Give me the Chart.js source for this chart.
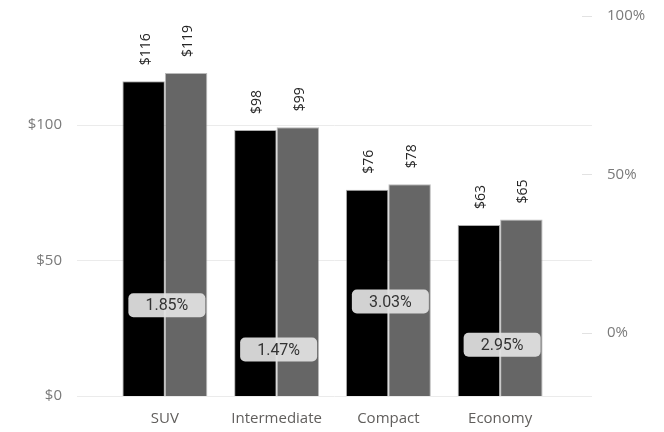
<!DOCTYPE html>
<html><head><meta charset="utf-8">
<script src="https://cdn.jsdelivr.net/npm/chart.js@4/dist/chart.umd.min.js"></script>
<style>html,body{margin:0;padding:0;background:#fff;overflow:hidden}</style>
</head><body><canvas id="c" width="664" height="432"></canvas>
<script>
const categories = ['SUV', 'Intermediate', 'Compact', 'Economy'];
const seriesA = [116, 98, 76, 63];
const seriesB = [119, 99, 78, 65];
const growthPct = [1.85, 1.47, 3.03, 2.95];
const leftTicks = [0, 50, 100];
const rightTicks = [0, 50, 100];

const gridPlugin = {
  id: 'gridPlugin',
  beforeDatasetsDraw(chart) {
    const ctx = chart.ctx, y = chart.scales.y, y1 = chart.scales.y1;
    ctx.save();
    ctx.lineWidth = 1;
    ctx.strokeStyle = '#ebebeb';
    leftTicks.forEach(v => {
      const py = Math.round(y.getPixelForValue(v)) + 0.5;
      ctx.beginPath(); ctx.moveTo(77, py); ctx.lineTo(592, py); ctx.stroke();
    });
    ctx.strokeStyle = '#e2e2e2';
    rightTicks.forEach(v => {
      const py = Math.round(y1.getPixelForValue(v)) + 0.5;
      ctx.beginPath(); ctx.moveTo(582, py); ctx.lineTo(592, py); ctx.stroke();
    });
    ctx.restore();
  }
};

const labelPlugin = {
  id: 'labelPlugin',
  afterDatasetsDraw(chart) {
    const ctx = chart.ctx;
    ctx.save();
    [0, 1].forEach(di => {
      const meta = chart.getDatasetMeta(di);
      const vals = chart.data.datasets[di].data;
      meta.data.forEach((bar, i) => {
        ctx.save();
        ctx.translate(bar.x + 2, bar.y - 16);
        ctx.rotate(-Math.PI / 2);
        ctx.font = '14px "Open Sans"';
        ctx.fillStyle = '#252525';
        ctx.textAlign = 'left';
        ctx.textBaseline = 'middle';
        ctx.fillText('$' + vals[i], 0, 0);
        ctx.restore();
      });
    });
    const meta = chart.getDatasetMeta(2);
    const vals = chart.data.datasets[2].data;
    meta.data.forEach((pt, i) => {
      const cx = pt.x + 2;
      const cy = pt.y + (i % 2 === 0 ? -21.5 : 21.5);
      const w = 77, h = 24, r = 5;
      ctx.beginPath();
      ctx.roundRect(cx - w / 2, cy - h / 2, w, h, r);
      ctx.fillStyle = 'rgba(226,226,226,0.93)';
      ctx.fill();
      ctx.font = '16px Roboto';
      ctx.fillStyle = '#333';
      ctx.textAlign = 'center';
      ctx.textBaseline = 'middle';
      ctx.fillText(vals[i].toFixed(2) + '%', cx, cy + 1);
    });
    ctx.restore();
  }
};

function noPad(s) { s.paddingTop = 0; s.paddingBottom = 0; s.paddingLeft = 0; s.paddingRight = 0; }

new Chart(document.getElementById('c'), {
  data: {
    labels: categories,
    datasets: [
      { type: 'bar', data: seriesA, backgroundColor: '#000000', borderColor: 'rgba(120,120,120,0.6)', borderWidth: 1, yAxisID: 'y', categoryPercentage: 0.76, barPercentage: 1, order: 2 },
      { type: 'bar', data: seriesB, backgroundColor: '#666666', borderColor: 'rgba(140,140,140,0.6)', borderWidth: 1, yAxisID: 'y', categoryPercentage: 0.76, barPercentage: 1, order: 2 },
      { type: 'line', data: growthPct, showLine: false, pointRadius: 0, yAxisID: 'y1', order: 1 }
    ]
  },
  options: {
    responsive: false, animation: false,
    layout: { padding: { top: 16, bottom: 0, left: 0, right: 0 } },
    plugins: { legend: { display: false }, tooltip: { enabled: false } },
    scales: {
      x: {
        grid: { display: false, drawTicks: false }, border: { display: false },
        ticks: { padding: 14, color: '#605e5c', font: { family: 'Open Sans', size: 15 } },
        afterFit(s) { s.height = 36; noPad(s); }
      },
      y: {
        position: 'left', min: 0, max: 140,
        grid: { display: false, drawTicks: false }, border: { display: false },
        afterBuildTicks(s) { s.ticks = leftTicks.map(v => ({ value: v })); },
        ticks: { padding: 47, color: '#7a7a7a', font: { family: 'Open Sans', size: 15 }, callback: v => '$' + v },
        afterFit(s) { s.width = 109; noPad(s); }
      },
      y1: {
        position: 'right', min: -20, max: 100,
        grid: { display: false, drawTicks: false }, border: { display: false },
        afterBuildTicks(s) { s.ticks = rightTicks.map(v => ({ value: v })); },
        ticks: { padding: 51, color: '#7a7a7a', font: { family: 'Open Sans', size: 15 }, callback: v => v + '%' },
        afterFit(s) { s.width = 108; noPad(s); }
      }
    }
  },
  plugins: [gridPlugin, labelPlugin]
});
</script></body></html>
